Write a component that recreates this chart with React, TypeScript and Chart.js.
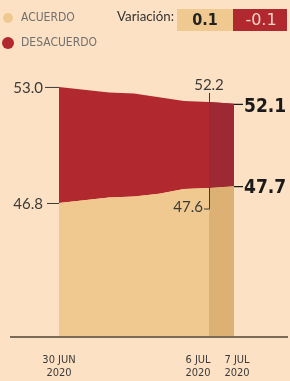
import React, { useEffect, useRef } from "react";
import { Chart, registerables } from "chart.js";

Chart.register(...registerables);

const dates = ["30 JUN 2020", "1 JUL 2020", "2 JUL 2020", "3 JUL 2020", "4 JUL 2020", "5 JUL 2020", "6 JUL 2020", "7 JUL 2020"];
const acuerdo = [46.8, 46.95, 47.1, 47.15, 47.3, 47.55, 47.6, 47.7];
const desacuerdo = [53.0, 52.85, 52.7, 52.65, 52.45, 52.25, 52.2, 52.1];
const tickIdx = [0, 6, 7];
const tickLines = [["30 JUN", "2020"], ["6 JUL", "2020"], ["7 JUL", "2020"]];
const variacion = ["0.1", "-0.1"];

const BG = "#fde1c4";
const TAN = "#efc98f";
const TAN_DARK = "#ddb073";
const RED = "#b1282f";
const RED_DARK = "#9d2934";

function cond(ctx: any, on: boolean) {
  try {
    ctx.fontStretch = on ? "condensed" : "normal";
  } catch (e) {}
}

const annot = {
  id: "annot",
  beforeDraw(chart: any) {
    const { ctx, width, height } = chart;
    ctx.save();
    ctx.fillStyle = BG;
    ctx.fillRect(0, 0, width, height);
    ctx.restore();
  },
  afterDraw(chart: any) {
    const { ctx, chartArea } = chart;
    const xs = chart.scales.x;
    const ys = chart.scales.y;
    const n = acuerdo.length;
    ctx.save();
    // baseline axis
    ctx.strokeStyle = "#7a6a58";
    ctx.lineWidth = 2;
    ctx.beginPath();
    ctx.moveTo(chartArea.left, chartArea.bottom);
    ctx.lineTo(chartArea.right, chartArea.bottom);
    ctx.stroke();

    // x labels
    ctx.fillStyle = "#3a3a3a";
    ctx.font = "11px 'DejaVu Sans'";
    cond(ctx, true);
    ctx.textAlign = "center";
    ctx.textBaseline = "middle";
    const shifts = [0, -11, 3];
    tickIdx.forEach((ti, k) => {
      const px = xs.getPixelForValue(ti) + shifts[k];
      ctx.fillText(tickLines[k][0], px, 360);
      ctx.fillText(tickLines[k][1], px, 373);
    });
    cond(ctx, false);

    const thin = "#3b3b3b";
    ctx.strokeStyle = thin;
    ctx.lineWidth = 1;
    ctx.font = "15px Lato";
    ctx.fillStyle = thin;
    // first point labels
    const x0 = xs.getPixelForValue(0);
    const yTop0 = ys.getPixelForValue(desacuerdo[0]);
    const yBot0 = ys.getPixelForValue(acuerdo[0]);
    ctx.beginPath();
    ctx.moveTo(x0 - 14, yTop0 + 0.5);
    ctx.lineTo(x0, yTop0 + 0.5);
    ctx.moveTo(x0 - 12, yBot0 + 0.5);
    ctx.lineTo(x0, yBot0 + 0.5);
    ctx.stroke();
    ctx.textAlign = "right";
    ctx.fillText(desacuerdo[0].toFixed(1), x0 - 16, yTop0 + 1);
    ctx.fillText(acuerdo[0].toFixed(1), x0 - 16, yBot0 + 1);

    // 6 JUL labels
    const x6 = xs.getPixelForValue(n - 2);
    const yTop6 = ys.getPixelForValue(desacuerdo[n - 2]);
    const yBot6 = ys.getPixelForValue(acuerdo[n - 2]);
    ctx.beginPath();
    ctx.moveTo(x6 + 0.5, yTop6 - 9);
    ctx.lineTo(x6 + 0.5, yTop6);
    ctx.moveTo(x6 + 0.5, yBot6);
    ctx.lineTo(x6 + 0.5, yBot6 + 21);
    ctx.lineTo(x6 - 5, yBot6 + 21);
    ctx.stroke();
    ctx.textAlign = "center";
    ctx.fillText(desacuerdo[n - 2].toFixed(1), x6, yTop6 - 17);
    ctx.textAlign = "right";
    ctx.fillText(acuerdo[n - 2].toFixed(1), x6 - 6, yBot6 + 19);

    // 7 JUL labels
    const x7 = xs.getPixelForValue(n - 1);
    const yTop7 = ys.getPixelForValue(desacuerdo[n - 1]);
    const yBot7 = ys.getPixelForValue(acuerdo[n - 1]);
    ctx.strokeStyle = "#1a1a1a";
    ctx.lineWidth = 1.2;
    ctx.beginPath();
    ctx.moveTo(x7, yTop7 + 0.5);
    ctx.lineTo(x7 + 9, yTop7 + 0.5);
    ctx.moveTo(x7, yBot7 + 0.5);
    ctx.lineTo(x7 + 9, yBot7 + 0.5);
    ctx.stroke();
    ctx.fillStyle = "#1a1a1a";
    ctx.font = "bold 19px 'DejaVu Sans'";
    cond(ctx, true);
    ctx.textAlign = "left";
    ctx.fillText(desacuerdo[n - 1].toFixed(1), x7 + 10, yTop7 + 3);
    ctx.fillText(acuerdo[n - 1].toFixed(1), x7 + 10, yBot7 + 2);
    cond(ctx, false);

    // legend
    ctx.fillStyle = TAN;
    ctx.beginPath();
    ctx.arc(8, 18, 5, 0, Math.PI * 2);
    ctx.fill();
    ctx.fillStyle = RED;
    ctx.beginPath();
    ctx.arc(8, 43, 6, 0, Math.PI * 2);
    ctx.fill();
    ctx.fillStyle = "#707070";
    ctx.font = "12px 'DejaVu Sans'";
    cond(ctx, true);
    ctx.textAlign = "left";
    ctx.textBaseline = "middle";
    ctx.fillText("ACUERDO", 21, 18);
    ctx.fillText("DESACUERDO", 21, 43);
    cond(ctx, false);

    ctx.fillStyle = TAN;
    ctx.fillRect(177, 9, 56, 22);
    ctx.fillStyle = RED;
    ctx.fillRect(233, 9, 54, 22);

    ctx.fillStyle = "#333";
    ctx.textAlign = "left";
    ctx.textBaseline = "alphabetic";
    let fs = 16;
    ctx.font = fs + "px Lato";
    const w = ctx.measureText("Variación:").width;
    fs = Math.min(20, (fs * 57) / w);
    ctx.font = fs.toFixed(1) + "px Lato";
    ctx.fillText("Variación:", 117, 21);

    ctx.textAlign = "center";
    ctx.textBaseline = "middle";
    ctx.font = "bold 16px 'DejaVu Sans'";
    cond(ctx, true);
    ctx.fillStyle = "#222";
    ctx.fillText(variacion[0], 205, 21);
    ctx.fillStyle = "#f6d6c6";
    ctx.font = "16px 'DejaVu Sans'";
    ctx.fillText(variacion[1], 261, 21);
    cond(ctx, false);
    ctx.restore();
  },
};

export default function App() {
  const ref = useRef<HTMLCanvasElement | null>(null);
  useEffect(() => {
    document.body.style.margin = "0";
    document.body.style.background = BG;
    const n = acuerdo.length;
    const pts = (arr: number[], from = 0) =>
      arr.map((v, i) => ({ x: i, y: v })).filter((p) => p.x >= from);
    const chart = new Chart(ref.current!, {
      type: "line",
      data: {
        labels: dates,
        datasets: [
          { label: "ACUERDO", data: pts(acuerdo), backgroundColor: TAN, borderWidth: 0, pointRadius: 0, fill: "start", order: 2 },
          { label: "DESACUERDO", data: pts(desacuerdo), backgroundColor: RED, borderWidth: 0, pointRadius: 0, fill: 0, order: 2 },
          { label: "ACUERDO hl", data: pts(acuerdo, n - 2), backgroundColor: TAN_DARK, borderWidth: 0, pointRadius: 0, fill: "start", order: 1 },
          { label: "DESACUERDO hl", data: pts(desacuerdo, n - 2), backgroundColor: RED_DARK, borderWidth: 0, pointRadius: 0, fill: 2, order: 1 },
        ] as any,
      },
      options: {
        animation: false,
        responsive: false,
        maintainAspectRatio: false,
        layout: { padding: { left: 10, right: 2, top: 60, bottom: 44 } },
        plugins: { legend: { display: false }, tooltip: { enabled: false } },
        scales: {
          x: { type: "linear", min: -1.96, max: 9.16, display: false },
          y: { min: 39.64, max: 54.44, display: false },
        },
      },
      plugins: [annot],
    });
    return () => chart.destroy();
  }, []);
  return <canvas ref={ref} width={290} height={381} style={{ display: "block" }} />;
}
